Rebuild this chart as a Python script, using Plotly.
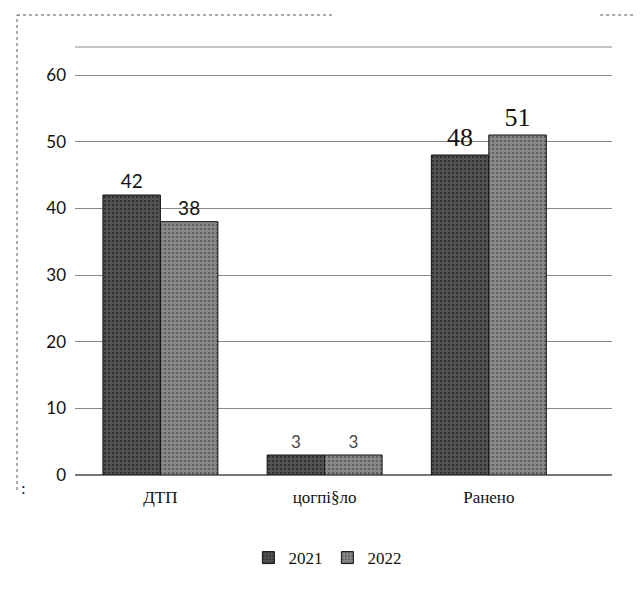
import plotly.graph_objects as go

categories = ["ДТП", "цогпi§ло", "Ранено"]
series_2021 = [42, 3, 48]
series_2022 = [38, 3, 51]
series_names = ["2021", "2022"]
y_ticks = [0, 10, 20, 30, 40, 50, 60]

label_fonts = ["Lato", "Lato", "Liberation Serif"]
label_sizes = [19, 17, 26]
label_colors = ["#111", "#444", "#111"]

fig = go.Figure()
fig.add_trace(go.Bar(
    x=categories, y=series_2021, name=series_names[0],
    text=[str(v) for v in series_2021], textposition="outside",
    textfont=dict(family=label_fonts, size=label_sizes, color=label_colors),
    marker=dict(color="#3c3c3c", line=dict(color="#111", width=1),
                pattern=dict(shape=".", fgcolor="#111", bgcolor="#555", size=4, solidity=0.35)),
    cliponaxis=False,
))
fig.add_trace(go.Bar(
    x=categories, y=series_2022, name=series_names[1],
    text=[str(v) for v in series_2022], textposition="outside",
    textfont=dict(family=label_fonts, size=label_sizes, color=label_colors),
    marker=dict(color="#7a7a7a", line=dict(color="#111", width=1),
                pattern=dict(shape=".", fgcolor="#333", bgcolor="#8a8a8a", size=4, solidity=0.3)),
    cliponaxis=False,
))

fig.update_layout(
    width=642, height=590,
    paper_bgcolor="white", plot_bgcolor="white",
    margin=dict(l=67, r=38, t=39, b=123),
    barmode="group", bargap=0.3, bargroupgap=0.0,
    showlegend=True,
    legend=dict(orientation="h", x=0.47, xanchor="center", y=-0.194, yanchor="middle",
                font=dict(family="Liberation Serif", size=17, color="#111"),
                itemwidth=30),
    xaxis=dict(range=[-0.52, 2.75], showgrid=False, showline=False, ticks="",
               tickfont=dict(family="Liberation Serif", size=17, color="#111"),
               ticklabelstandoff=10),
    yaxis=dict(range=[0, 64.2], tickvals=y_ticks, showgrid=True, gridcolor="#8a8a8a",
               gridwidth=1, zeroline=True, zerolinecolor="#777", showline=False,
               tickfont=dict(family="Lato", size=17, color="#111"), ticklabelstandoff=8),
    shapes=[
        dict(type="line", xref="paper", yref="paper", x0=-0.108, x1=-0.108, y0=-0.035, y1=1.0748,
             line=dict(color="#555", width=1, dash="dot")),
        dict(type="line", xref="paper", yref="paper", x0=-0.108, x1=0.484, y0=1.0748, y1=1.0748,
             line=dict(color="#555", width=1, dash="dot")),
        dict(type="line", xref="paper", yref="paper", x0=0.978, x1=1.06, y0=1.0748, y1=1.0748,
             line=dict(color="#555", width=1, dash="dot")),
        dict(type="line", xref="paper", yref="paper", x0=0.0, x1=1.0, y0=1.0, y1=1.0,
             line=dict(color="#8a8a8a", width=1)),
    ],
    annotations=[
        dict(text=":", xref="paper", yref="paper", x=-0.105, y=-0.058, showarrow=False,
             font=dict(family="Liberation Serif", size=17, color="#111")),
    ],
)

fig.write_html("out.html")
